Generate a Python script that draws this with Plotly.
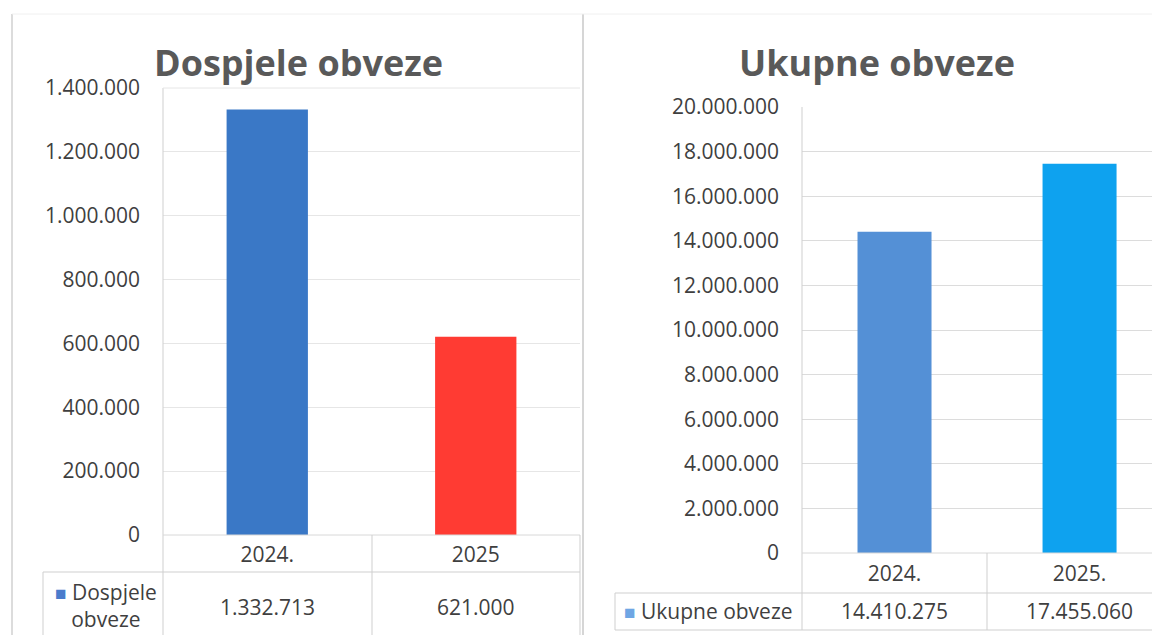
import plotly.graph_objects as go

# ---- data ----
left_title = "Dospjele obveze"
left_categories = ["2024.", "2025"]
left_values = [1332713, 621000]
left_series = "Dospjele obveze"
left_ticks = [0, 200000, 400000, 600000, 800000, 1000000, 1200000, 1400000]

right_title = "Ukupne obveze"
right_categories = ["2024.", "2025."]
right_values = [14410275, 17455060]
right_series = "Ukupne obveze"
right_ticks = [0, 2000000, 4000000, 6000000, 8000000, 10000000, 12000000,
               14000000, 16000000, 18000000, 20000000]

W, H = 1160, 635
OFF = 8  # page body margin offset


def px(x):
    return (x - OFF) / W


def py(y):
    return 1 - (y - OFF) / H


def fmt(v):
    return f"{v:,}".replace(",", ".")


TXT = "#3f3f3f"
TITLE = "#595959"
GRID = "#dcdcdc"
FONT = "Open Sans"
FS = 21

fig = go.Figure()
fig.add_trace(go.Bar(x=left_categories, y=left_values, width=0.39,
                     marker=dict(color=["#3a78c6", "#ff3b33"], line=dict(width=0)),
                     xaxis="x", yaxis="y", showlegend=False, name=left_series))
fig.add_trace(go.Bar(x=right_categories, y=right_values, width=0.40,
                     marker=dict(color=["#5490d6", "#0ea2ef"], line=dict(width=0)),
                     xaxis="x2", yaxis="y2", showlegend=False, name=right_series))

axis_common = dict(showline=False, zeroline=False, ticks="", automargin=False,
                   tickfont=dict(family=FONT, size=FS, color=TXT), fixedrange=True)

fig.update_layout(
    template="none",
    width=W, height=H,
    margin=dict(l=0, r=0, t=0, b=0, pad=0),
    paper_bgcolor="white", plot_bgcolor="white",
    separators=",.",
    xaxis=dict(domain=[px(163), px(580)], anchor="y", type="category",
               range=[-0.5, 1.5], showgrid=False, ticklabelstandoff=5, **axis_common),
    yaxis=dict(domain=[py(535), py(88)], anchor="x", range=[0, 1400000],
               tickvals=left_ticks, tickformat=",d", showgrid=True,
               gridcolor="#e6e6e6", gridwidth=1, ticklabelstandoff=22, **axis_common),
    xaxis2=dict(domain=[px(802), 1.0], anchor="y2", type="category",
                range=[-0.5, 1.478], showgrid=False, ticklabelstandoff=6, **axis_common),
    yaxis2=dict(domain=[py(553), py(107)], anchor="x2", range=[0, 20000000],
                tickvals=right_ticks, tickformat=",d", showgrid=True,
                gridcolor=GRID, gridwidth=1, ticklabelstandoff=22, **axis_common),
)

shapes = []


def line(x0, y0, x1, y1, color="#cfcfcf", w=1):
    shapes.append(dict(type="line", xref="paper", yref="paper",
                       x0=px(x0), y0=py(y0), x1=px(x1), y1=py(y1),
                       line=dict(color=color, width=w)))


# outer borders / separator
line(12, 14, 12, 643, "#d0d0d0", 1.5)
line(583, 14, 583, 643, "#c8c8c8", 1.5)
line(12, 14, 1168, 14, "#f0f0f0", 1)

# left chart frame + data table
line(163, 88, 163, 643)
line(163, 88, 580, 88, "#e6e6e6")
line(163, 535, 580, 535, "#d8d8d8")
line(372, 535, 372, 643)
line(580, 535, 580, 643)
line(43, 572, 580, 572)
line(43, 572, 43, 643)

# right chart frame + data table
line(802, 107, 802, 630)
line(802, 553, 1168, 553, "#d8d8d8")
line(987, 553, 987, 630)
line(615, 593, 1168, 593)
line(615, 630, 1168, 630)
line(615, 593, 615, 630)

annotations = [
    dict(text="<b>" + left_title + "</b>", xref="paper", yref="paper",
         x=px(298), y=py(62), xanchor="center", yanchor="middle", showarrow=False,
         font=dict(family=FONT, size=36, color=TITLE)),
    dict(text="<b>" + right_title + "</b>", xref="paper", yref="paper",
         x=px(877), y=py(62), xanchor="center", yanchor="middle", showarrow=False,
         font=dict(family=FONT, size=36, color=TITLE)),
    dict(text="<span style='color:#4a7ccc;font-size:19px'>■</span> Dospjele<br>obveze",
         xref="paper", yref="paper", x=px(106), y=py(605), xanchor="center",
         yanchor="middle", showarrow=False, align="center",
         font=dict(family=FONT, size=FS, color=TXT)),
    dict(text="<span style='color:#6fa6e4;font-size:19px'>■</span> " + right_series,
         xref="paper", yref="paper", x=px(708), y=py(611), xanchor="center",
         yanchor="middle", showarrow=False,
         font=dict(family=FONT, size=FS, color=TXT)),
]
for i, v in enumerate(left_values):
    annotations.append(dict(text=fmt(v), xref="x", yref="paper", x=i, y=py(607),
                            xanchor="center", yanchor="middle", showarrow=False,
                            font=dict(family=FONT, size=FS, color=TXT)))
for i, v in enumerate(right_values):
    annotations.append(dict(text=fmt(v), xref="x2", yref="paper", x=i, y=py(611),
                            xanchor="center", yanchor="middle", showarrow=False,
                            font=dict(family=FONT, size=FS, color=TXT)))

fig.update_layout(shapes=shapes, annotations=annotations)
fig.write_html("out.html")
